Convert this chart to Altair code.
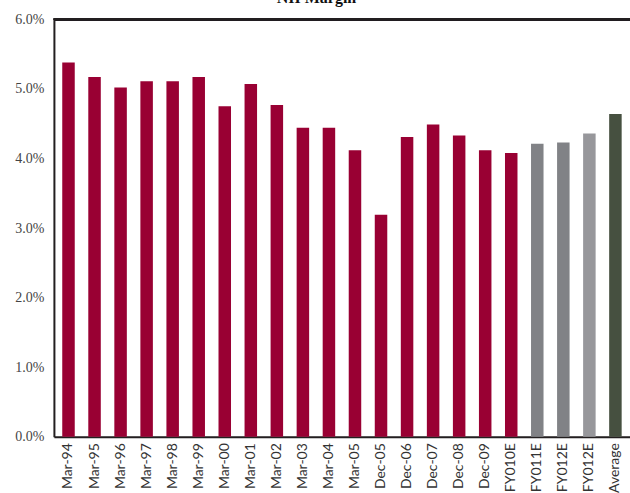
import altair as alt
import pandas as pd

# NII margin by period (%)
periods = ["Mar-94", "Mar-95", "Mar-96", "Mar-97", "Mar-98", "Mar-99", "Mar-00",
           "Mar-01", "Mar-02", "Mar-03", "Mar-04", "Mar-05", "Dec-05", "Dec-06",
           "Dec-07", "Dec-08", "Dec-09", "FY010E", "FY011E", "FY012E", "FY012E",
           "Average"]
margins = [5.38, 5.17, 5.02, 5.11, 5.11, 5.17, 4.75, 5.07, 4.77, 4.44, 4.44,
           4.12, 3.19, 4.31, 4.49, 4.33, 4.12, 4.08, 4.21, 4.23, 4.36, 4.64]
groups = ["actual"] * 18 + ["est1", "est1", "est2", "avg"]

group_names = ["actual", "est1", "est2", "avg"]
group_colors = ["#990033", "#818286", "#97979b", "#465040"]

df = pd.DataFrame({
    "idx": list(range(len(periods))),
    "period": periods,
    "margin": margins,
    "group": groups,
})

label_map = "{" + ",".join(f"{i}:'{p}'" for i, p in enumerate(periods)) + "}"

W, H = 577, 418

base = alt.Chart(df)

bars = base.mark_bar().encode(
    x=alt.X(
        "idx:O",
        scale=alt.Scale(paddingInner=0.52, paddingOuter=0.32),
        axis=alt.Axis(
            title=None,
            labelAngle=-90,
            labelAlign="right",
            labelBaseline="middle",
            labelExpr=f"{label_map}[datum.value]",
            labelFont="Lato",
            labelFontSize=14,
            labelColor="#333333",
            labelPadding=6,
            ticks=False,
            domain=True,
            domainColor="#231f20",
            domainWidth=2,
        ),
    ),
    y=alt.Y(
        "margin:Q",
        scale=alt.Scale(domain=[0, 6], nice=False),
        axis=alt.Axis(
            title=None,
            values=[0, 1, 2, 3, 4, 5, 6],
            labelExpr="format(datum.value, '.1f') + '%'",
            labelFont="Liberation Serif",
            labelFontSize=14,
            labelColor="#444444",
            labelPadding=10,
            ticks=False,
            grid=False,
            domain=True,
            domainColor="#231f20",
            domainWidth=2,
        ),
    ),
    color=alt.Color(
        "group:N",
        scale=alt.Scale(domain=group_names, range=group_colors),
        legend=None,
    ),
)

top_line = alt.Chart(df).mark_rule(color="#231f20", strokeWidth=2).encode(
    y=alt.value(0)
)

title_text = alt.Chart(pd.DataFrame({"t": ["NII Margin"]})).mark_text(
    font="Liberation Serif",
    fontSize=16,
    fontWeight="bold",
    color="#111111",
    align="center",
    baseline="alphabetic",
).encode(
    text="t:N",
    x=alt.value(263),
    y=alt.value(-16),
)

chart = (
    alt.layer(bars, top_line, title_text)
    .properties(
        width=W,
        height=H,
        autosize=alt.AutoSizeParams(type="none"),
        padding={"left": 54, "top": 19, "right": 0, "bottom": 56},
    )
    .configure_view(stroke=None)
    .configure(background="white")
)

chart.save("out.html", embed_options={"renderer": "svg", "actions": False})
